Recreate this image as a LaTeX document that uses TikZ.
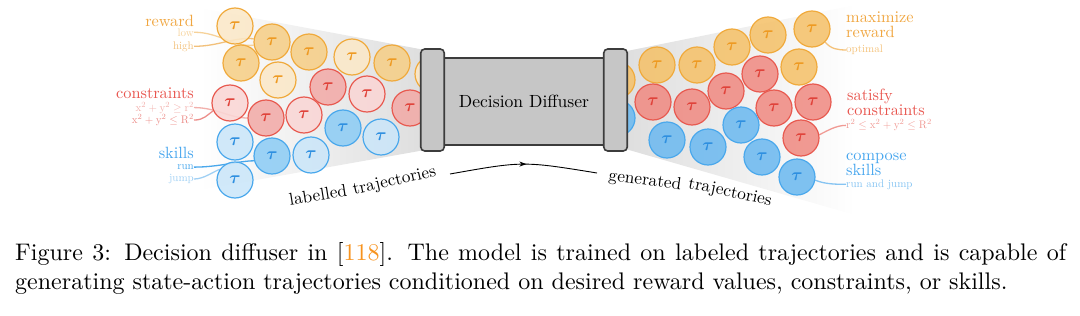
\documentclass[tikz,border=0pt]{standalone}
\usepackage{fontspec}
\setmainfont{lmroman10-regular.otf}[BoldFont=lmroman10-bold.otf, ItalicFont=lmroman10-italic.otf]
\usepackage{bm}
\usetikzlibrary{arrows.meta,decorations.markings}
\definecolor{orB}{HTML}{F0AA3C}
\definecolor{orL}{HTML}{FBE8C8}
\definecolor{orM}{HTML}{F6CF88}
\definecolor{orD}{HTML}{F5C26B}
\definecolor{orT}{HTML}{EE9A22}
\definecolor{rdB}{HTML}{E85A50}
\definecolor{rdL}{HTML}{FAD6D5}
\definecolor{rdM}{HTML}{F2ABA8}
\definecolor{rdD}{HTML}{F08C84}
\definecolor{rdT}{HTML}{E0423A}
\definecolor{blB}{HTML}{4AA8EC}
\definecolor{blL}{HTML}{CBE6F9}
\definecolor{blM}{HTML}{8ECDF5}
\definecolor{blD}{HTML}{6EBAF0}
\definecolor{blT}{HTML}{2E8FE0}
\definecolor{boxfill}{HTML}{C6C6C6}
\definecolor{boxline}{HTML}{3C3C3C}
\definecolor{cite}{HTML}{F7931E}
\definecolor{orLab}{HTML}{F0A640}
\definecolor{orLow}{HTML}{F6D29A}
\definecolor{orHigh}{HTML}{F2C07A}
\definecolor{rdLab}{HTML}{E8554E}
\definecolor{rdLow}{HTML}{F2B0AC}
\definecolor{rdHigh}{HTML}{EC8E8A}
\definecolor{rdSoft}{HTML}{F09A94}
\definecolor{blLab}{HTML}{45A5EE}
\definecolor{blLow}{HTML}{A0D0F4}
\definecolor{blSoft}{HTML}{86C4F2}
\definecolor{orSoft}{HTML}{F4C27A}
\pgfdeclarelayer{funnel}
\pgfdeclarelayer{lines}
\pgfsetlayers{funnel,lines,main}
\tikzset{
  traj/.style={circle, draw, line width=1.2pt, minimum size=36pt, inner sep=0pt,
    fill opacity=0.88, text opacity=1, font=\fontsize{17.28}{17}\selectfont},
  ol/.style={traj, draw=orB, fill=orL, text=orT},
  om/.style={traj, draw=orB, fill=orM, text=orT},
  od/.style={traj, draw=orB, fill=orD, text=orT},
  rl/.style={traj, draw=rdB, fill=rdL, text=rdT},
  rm/.style={traj, draw=rdB, fill=rdM, text=rdT},
  rd/.style={traj, draw=rdB, fill=rdD, text=rdT},
  bl/.style={traj, draw=blB, fill=blL, text=blT},
  bm/.style={traj, draw=blB, fill=blM, text=blT},
  bd/.style={traj, draw=blB, fill=blD, text=blT},
  lab/.style={font=\fontsize{16.3}{15}\selectfont, inner sep=0pt},
  small/.style={font=\fontsize{11}{12}\selectfont, inner sep=0pt},
  conn/.style={line width=1.3pt},
  capnode/.style={draw=boxline, fill=boxfill, line width=1.6pt, rounded corners=4pt,
    minimum width=23.5pt, minimum height=102pt, inner sep=0pt},
  traj label/.style={font=\fontsize{17.3}{17}\selectfont, inner sep=0pt, text=black}
}
\newcommand{\tauglyph}{$\bm{\tau}$}
\begin{document}
\begin{tikzpicture}[x=1pt,y=-1pt]
\useasboundingbox (0,0) rectangle (1080,316);

% funnels
\begin{pgfonlayer}{funnel}
\shade[left color=white, right color=black!13] (200,8) -- (425,50) -- (425,150) -- (200,190) -- cycle;
\shade[left color=black!13, right color=white] (622,52) -- (855,5) -- (855,215) -- (622,148) -- cycle;
\end{pgfonlayer}

% left circles: reward
\node[ol] (c1) at (235,26) {\tauglyph};
\node[om] (c2) at (272,42) {\tauglyph};
\node[om] (c3) at (241,63) {\tauglyph};
\node[om] (c4) at (309,52) {\tauglyph};
\node[ol] (c5) at (278,80) {\tauglyph};
\node[ol] (c6) at (352,57) {\tauglyph};
\node[om] (c7) at (392,63) {\tauglyph};
\node[ol] (c8) at (433,74) {\tauglyph};
% left circles: constraints
\node[rl] (r1) at (230,103) {\tauglyph};
\node[rm] (r2) at (266,118) {\tauglyph};
\node[rl] (r3) at (304,115) {\tauglyph};
\node[rm] (r4) at (328,87) {\tauglyph};
\node[rl] (r5) at (367,94) {\tauglyph};
\node[rm] (r6) at (410,108) {\tauglyph};
% left circles: skills
\node[bl] (b1) at (235,142) {\tauglyph};
\node[bm] (b2) at (272,156) {\tauglyph};
\node[bl] (b3) at (311,155) {\tauglyph};
\node[bm] (b4) at (343,128) {\tauglyph};
\node[bl] (b5) at (381,137) {\tauglyph};
\node[bl] (b6) at (235,180) {\tauglyph};

% right circles
\node[od] (o0) at (617,80) {\tauglyph};
\node[od] (o1) at (657,65) {\tauglyph};
\node[od] (o2) at (697,65) {\tauglyph};
\node[od] (o3) at (732,47) {\tauglyph};
\node[od] (o4) at (768,35) {\tauglyph};
\node[od] (o5) at (812,29) {\tauglyph};
\node[od] (o6) at (799,67) {\tauglyph};
\node[rd] (q1) at (653,102) {\tauglyph};
\node[rd] (q2) at (692,107) {\tauglyph};
\node[rd] (q3) at (726,91) {\tauglyph};
\node[rd] (q4) at (760,74) {\tauglyph};
\node[rd] (q5) at (774,108) {\tauglyph};
\node[rd] (q6) at (813,102) {\tauglyph};
\node[rd] (q7) at (801,138) {\tauglyph};
\node[bd] (p0) at (617,118) {\tauglyph};
\node[bd] (p1) at (667,140) {\tauglyph};
\node[bd] (p2) at (708,147) {\tauglyph};
\node[bd] (p3) at (741,125) {\tauglyph};
\node[bd] (p4) at (762,157) {\tauglyph};
\node[bd] (p5) at (797,177) {\tauglyph};

% diffuser box
\node[draw=boxline, fill=boxfill, line width=1.6pt, minimum width=160pt, minimum height=87pt,
  inner sep=0pt, font=\fontsize{17.6}{20}\selectfont] (dd) at (524,101.5) {Decision Diffuser};
\node[capnode] (capL) at (432.5,100) {};
\node[capnode] (capR) at (615.5,100) {};

% left labels
\node[lab, text=orLab, anchor=base east] (rwL) at (194,26) {reward};
\node[small, text=orLow, anchor=base east] (low) at (194,36) {low};
\node[small, text=orHigh, anchor=base east] (high) at (194,49) {high};
\node[lab, text=rdLab, anchor=base east] (csL) at (194,98.3) {constraints};
\node[small, text=rdLow, anchor=base east] (cge) at (194,111) {$\mathrm{x}^2+\mathrm{y}^2\geq\mathrm{r}^2$};
\node[small, text=rdHigh, anchor=base east] (cle) at (194,123.5) {$\mathrm{x}^2+\mathrm{y}^2\leq\mathrm{R}^2$};
\node[lab, text=blLab, anchor=base east] (skL) at (194,158.3) {skills};
\node[small, text=blB, anchor=base east] (run) at (194,169.5) {run};
\node[small, text=blLow, anchor=base east] (jump) at (194,181.5) {jump};

% right labels
\node[lab, text=orLab, anchor=base west] (mxR1) at (846,22.8) {maximize};
\node[lab, text=orLab, anchor=base west] (mxR2) at (846,37.6) {reward};
\node[small, text=orSoft, anchor=base west] (opt) at (846,52.7) {optimal};
\node[lab, text=rdLab, anchor=base west] (scR1) at (847,100.8) {satisfy};
\node[lab, text=rdLab, anchor=base west] (scR2) at (847,115.4) {constraints};
\node[small, text=rdSoft, anchor=base west] (rng) at (846,128.8) {$\mathrm{r}^2\leq\mathrm{x}^2+\mathrm{y}^2\leq\mathrm{R}^2$};
\node[lab, text=blLab, anchor=base west] (csR1) at (846,160.4) {compose};
\node[lab, text=blLab, anchor=base west] (csR2) at (846,175.2) {skills};
\node[small, text=blSoft, anchor=base west] (rj) at (846,187) {run and jump};

% connectors
\begin{pgfonlayer}{lines}
\draw[conn, orLow] (low.east) .. controls +(25,0) and +(-20,2) .. (c2.190);
\draw[conn, orHigh] (high.east) .. controls +(25,0) and +(-20,-2) .. (c2.170);
\draw[conn, rdLow] (cge.east) .. controls +(22,0) and +(-18,0) .. (r2.180);
\draw[conn, rdHigh] (cle.east) .. controls +(10,0) and +(-6,4) .. (r1.205);
\draw[conn, blB] (run.east) .. controls +(25,0) and +(-15,0) .. (b2.195);
\draw[conn, blLow] (jump.east) .. controls +(10,0) and +(-6,2) .. (b6.145);
\draw[conn, orSoft] (o5.-45) .. controls +(6,7) and +(-8,0) .. (opt.west);
\draw[conn, rdSoft] (q7.10) .. controls +(8,-4) and +(-10,0) .. (rng.west);
\draw[conn, blSoft] (p5.-10) .. controls +(10,4) and +(-10,0) .. (rj.west);
\end{pgfonlayer}

% trajectory captions
\node[traj label, rotate=9] (lbl1) at (318,195) {labelled};
\node[traj label, rotate=13] (lbl2) at (394.5,181.5) {trajectories};
\node[traj label, rotate=-8] (gen1) at (645,181) {generated};
\node[traj label, rotate=-12] (gen2) at (730,193) {trajectories};

% arrow
\coordinate (as1) at (450,174);
\coordinate (as2) at (597,173);
\draw[line width=0.9pt, postaction={decorate},
  decoration={markings, mark=at position 0.52 with {\arrow{Stealth[length=7pt,width=5pt]}}}]
  (as1) .. controls (523,161) .. (as2);

% caption
\node[anchor=north west, inner sep=0pt, text width=1051pt, align=justify,
  font=\fontsize{24}{28.5}\selectfont] (cap) at (15,242.5)
  {Figure 3: Decision diffuser in [\textcolor{cite}{118}]. The model is trained on labeled trajectories and is capable of generating state-action trajectories conditioned on desired reward values, constraints, or skills.};
\end{tikzpicture}
\end{document}
